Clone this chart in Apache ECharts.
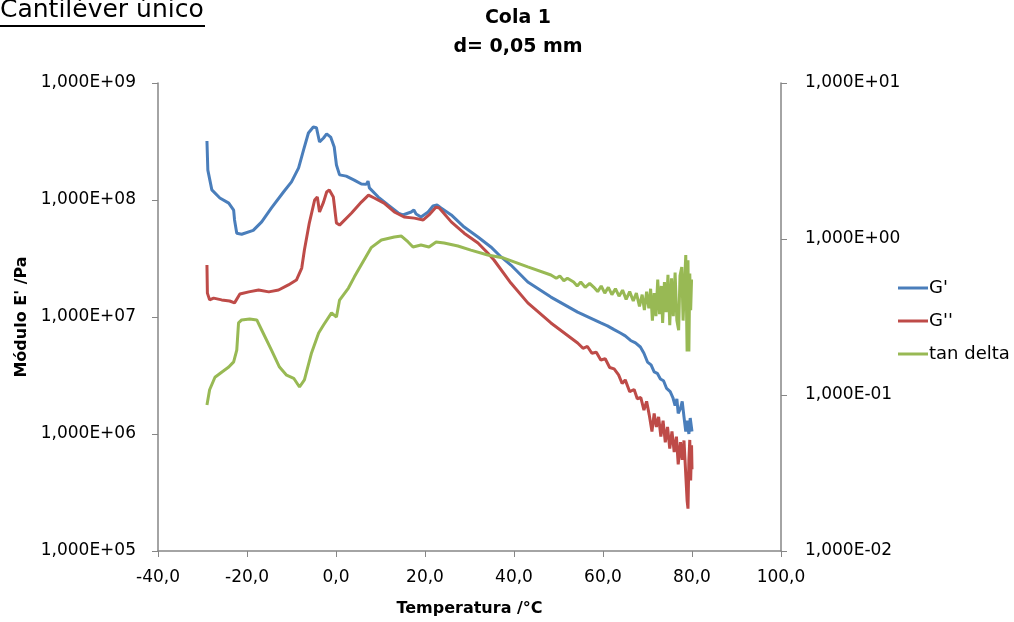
<!DOCTYPE html>
<html>
<head>
<meta charset="utf-8">
<script src="https://cdn.jsdelivr.net/npm/echarts@6/dist/echarts.min.js"></script>
<style>
html, body { margin: 0; padding: 0; background: #fff; }
#report { width: 1014px; height: 622px; }
</style>
</head>
<body>
<div id="report"></div>
<script>
// G' (Pa)
var gpTemp = [-29.0, -28.8, -27.9, -26.1, -24.1, -23.0, -22.8, -22.3, -21.2, -18.6, -16.7, -14.5, -11.8, -10.0, -8.4, -7.3, -6.2, -5.1, -4.4, -3.7,
    -2.8, -2.1, -1.2, -0.4, 0.1, 0.8, 2.3, 4.1, 5.7, 6.8, 7.2, 7.5, 9.5, 11.7, 14.0, 15.0, 16.9, 17.5, 18.0, 19.1,
    20.7, 21.8, 22.7, 23.6, 25.9, 28.8, 31.9, 34.8, 37.1, 39.3, 43.1, 48.3, 54.3, 59.5, 61.0, 62.5, 63.9, 65.0, 66.2, 67.3,
    68.4, 69.2, 70.0, 70.8, 71.5, 72.2, 72.9, 73.6, 74.3, 75.1, 75.7, 76.2, 76.6, 76.9, 77.4, 77.8, 78.2, 78.6, 78.9, 79.3,
    79.6, 80.0];
var gpVals = [3.19e8, 1.80e8, 1.22e8, 1.04e8, 9.4e7, 8.2e7, 6.75e7, 5.2e7, 5.1e7, 5.5e7, 6.5e7, 8.55e7, 1.17e8, 1.43e8, 1.88e8, 2.67e8, 3.74e8, 4.21e8, 4.15e8, 3.13e8,
    3.39e8, 3.67e8, 3.45e8, 2.84e8, 1.99e8, 1.64e8, 1.60e8, 1.48e8, 1.37e8, 1.36e8, 1.45e8, 1.27e8, 1.06e8, 9.06e7, 7.74e7, 7.45e7, 7.89e7, 8.2e7, 7.59e7, 7.16e7,
    7.89e7, 8.89e7, 9.06e7, 8.55e7, 7.45e7, 5.87e7, 4.83e7, 3.97e7, 3.26e7, 2.78e7, 1.99e7, 1.48e7, 1.10e7, 8.89e6, 8.4e6, 7.8e6, 7.30e6, 6.9e6, 6.3e6, 6.0e6,
    5.54e6, 4.9e6, 4.12e6, 3.9e6, 3.4e6, 3.3e6, 2.95e6, 2.85e6, 2.45e6, 2.3e6, 2.05e6, 1.75e6, 2.0e6, 1.5e6, 1.65e6, 1.9e6, 1.4e6, 1.05e6, 1.3e6, 1.0e6,
    1.37e6, 1.05e6];

// G'' (Pa)
var gppTemp = [-29.0, -28.9, -28.4, -27.5, -25.7, -23.9, -22.8, -21.6, -19.6, -17.4, -15.1, -12.9, -10.7, -8.9, -7.7, -7.1, -6.0, -4.8, -4.2, -3.7,
    -2.8, -2.1, -1.5, -0.6, 0.1, 0.8, 3.5, 5.7, 7.3, 8.6, 10.8, 13.1, 15.3, 17.6, 19.6, 20.9, 22.5, 23.2, 25.9, 28.8,
    31.9, 34.1, 35.5, 39.3, 43.1, 48.3, 54.3, 55.5, 56.5, 57.5, 58.5, 59.5, 60.5, 61.5, 62.5, 63.5, 64.3, 65.0, 66.0, 67.0,
    67.7, 68.5, 69.2, 69.8, 70.4, 71.0, 71.5, 72.0, 72.5, 73.0, 73.5, 74.0, 74.5, 75.0, 75.5, 76.0, 76.5, 76.9, 77.4, 77.8,
    78.2, 78.6, 78.9, 79.1, 79.3, 79.5, 79.7, 79.9, 80.0];
var gppVals = [2.78e7, 1.60e7, 1.40e7, 1.45e7, 1.40e7, 1.37e7, 1.32e7, 1.57e7, 1.64e7, 1.70e7, 1.64e7, 1.70e7, 1.88e7, 2.07e7, 2.62e7, 3.74e7, 6.35e7, 1.0e8, 1.06e8, 7.9e7,
    9.6e7, 1.17e8, 1.22e8, 1.06e8, 6.35e7, 6.1e7, 7.74e7, 9.6e7, 1.10e8, 1.04e8, 9.4e7, 7.9e7, 7.16e7, 7.0e7, 6.75e7, 7.45e7, 8.7e7, 8.55e7, 6.5e7, 5.2e7,
    4.29e7, 3.52e7, 3.07e7, 1.95e7, 1.32e7, 8.89e6, 6.0e6, 5.4e6, 5.6e6, 4.9e6, 5.0e6, 4.29e6, 4.4e6, 3.7e6, 3.6e6, 3.2e6, 2.7e6, 2.9e6, 2.3e6, 2.4e6,
    2.0e6, 2.05e6, 1.6e6, 1.9e6, 1.45e6, 1.05e6, 1.5e6, 1.15e6, 1.4e6, 9.5e5, 1.3e6, 8.5e5, 1.15e6, 7.5e5, 1.05e6, 7.0e5, 9.5e5, 5.5e5, 8.5e5, 6.0e5,
    8.8e5, 4.5e5, 2.7e5, 2.3e5, 6.0e5, 8.9e5, 4.0e5, 8.0e5, 5.0e5];

// tan delta (right axis)
var tanTemp = [-29.0, -28.4, -27.2, -25.7, -24.1, -23.0, -22.3, -21.9, -21.2, -19.4, -17.8, -16.7, -14.5, -12.7, -11.1, -9.5, -8.2, -7.1, -5.5, -3.9,
    -2.8, -1.0, 0.1, 0.8, 2.8, 4.1, 5.0, 7.9, 10.2, 13.1, 14.7, 15.1, 16.2, 17.3, 19.1, 20.9, 22.5, 24.3, 27.4, 30.3,
    34.1, 37.7, 43.1, 48.3, 49.5, 50.3, 51.2, 52.0, 53.4, 54.2, 55.0, 56.0, 57.0, 57.9, 58.8, 59.6, 60.4, 61.2, 62.0, 62.8,
    63.6, 64.4, 65.2, 66.0, 66.8, 67.5, 68.2, 68.8, 69.3, 69.8, 70.3, 70.7, 71.1, 71.5, 71.9, 72.3, 72.7, 73.1, 73.4, 73.8,
    74.2, 74.6, 75.0, 75.4, 75.8, 76.2, 76.6, 77.0, 77.3, 77.7, 78.0, 78.3, 78.6, 78.9, 79.1, 79.3, 79.5, 79.7, 79.9];
var tanVals = [0.0863, 0.108, 0.130, 0.140, 0.151, 0.163, 0.194, 0.290, 0.303, 0.307, 0.303, 0.261, 0.194, 0.151, 0.134, 0.128, 0.1125, 0.125, 0.186, 0.250,
    0.281, 0.336, 0.316, 0.406, 0.485, 0.570, 0.632, 0.88, 0.986, 1.03, 1.045, 1.06, 0.957, 0.889, 0.916, 0.889, 0.957, 0.942, 0.902, 0.849,
    0.789, 0.755, 0.662, 0.588, 0.56, 0.58, 0.54, 0.56, 0.530, 0.50, 0.53, 0.49, 0.52, 0.492, 0.46, 0.50, 0.45, 0.49, 0.44, 0.48,
    0.43, 0.47, 0.41, 0.46, 0.40, 0.45, 0.37, 0.44, 0.35, 0.46, 0.36, 0.48, 0.30, 0.45, 0.32, 0.55, 0.33, 0.50, 0.29, 0.53,
    0.34, 0.59, 0.28, 0.56, 0.32, 0.61, 0.30, 0.26, 0.58, 0.66, 0.30, 0.50, 0.79, 0.19, 0.73, 0.19, 0.60, 0.35, 0.55];

var xTicks = [-40, -20, 0, 20, 40, 60, 80, 100];

function pairs(t, v) {
    var out = [];
    for (var i = 0; i < t.length; i++) out.push([t[i], v[i]]);
    return out;
}

function sciLabel(value) {
    var e = Math.round(Math.log(value) / Math.LN10);
    var a = Math.abs(e);
    return '1,000E' + (e < 0 ? '-' : '+') + (a < 10 ? '0' : '') + a;
}

var font = 'DejaVu Sans';
var axisGrey = '#868686';

var option = {
    animation: false,
    backgroundColor: '#fff',
    title: {
        text: 'Cola 1\nd= 0,05 mm',
        left: 513,
        top: -1,
        textAlign: 'center',
        textStyle: { fontFamily: font, fontSize: 19, fontWeight: 'bold', color: '#000', lineHeight: 29 }
    },
    graphic: [
        {
            type: 'text', left: 0, top: -2,
            style: { text: 'Cantiléver único', font: '25px "DejaVu Sans"', fill: '#000' }
        },
        {
            type: 'rect', left: 0, top: 25,
            shape: { width: 205, height: 2 },
            style: { fill: '#000' }
        }
    ],
    legend: {
        orient: 'vertical',
        left: 893,
        top: 274,
        itemGap: 15,
        itemWidth: 30,
        itemHeight: 3,
        icon: 'rect',
        textStyle: { fontFamily: font, fontSize: 18, color: '#000', padding: [0, 0, 0, -4] },
        data: ["G'", "G''", 'tan delta']
    },
    grid: { left: 158, right: 233, top: 83, bottom: 71 },
    xAxis: {
        type: 'value',
        min: xTicks[0],
        max: xTicks[xTicks.length - 1],
        interval: 20,
        name: 'Temperatura /°C',
        nameLocation: 'middle',
        nameGap: 50,
        nameTextStyle: { fontFamily: font, fontSize: 16, fontWeight: 'bold', color: '#000' },
        axisLine: { lineStyle: { color: axisGrey, width: 1.5 } },
        axisTick: { length: 6, lineStyle: { color: axisGrey } },
        axisLabel: {
            fontFamily: font, fontSize: 17, color: '#000', margin: 18,
            formatter: function (v) { return v.toFixed(1).replace('.', ','); }
        },
        splitLine: { show: false }
    },
    yAxis: [
        {
            type: 'log',
            logBase: 10,
            min: 1e5,
            max: 1e9,
            position: 'left',
            name: "Módulo E' /Pa",
            nameLocation: 'middle',
            nameRotate: 90,
            nameGap: 128,
            nameTextStyle: { fontFamily: font, fontSize: 16, fontWeight: 'bold', color: '#000' },
            axisLine: { show: true, onZero: false, lineStyle: { color: axisGrey, width: 1.5 } },
            axisTick: { show: true, length: 6, lineStyle: { color: axisGrey } },
            axisLabel: { fontFamily: font, fontSize: 17, color: '#000', margin: 22, formatter: sciLabel },
            splitLine: { show: false },
            minorTick: { show: false }
        },
        {
            type: 'log',
            logBase: 10,
            min: 1e-2,
            max: 1e1,
            position: 'right',
            axisLine: { show: true, onZero: false, lineStyle: { color: axisGrey, width: 1.5 } },
            axisTick: { show: true, length: 6, lineStyle: { color: axisGrey } },
            axisLabel: { fontFamily: font, fontSize: 17, color: '#000', margin: 24, formatter: sciLabel },
            splitLine: { show: false },
            minorTick: { show: false }
        }
    ],
    series: [
        {
            name: "G'", type: 'line', yAxisIndex: 0, showSymbol: false, symbol: 'none',
            lineStyle: { width: 3, color: '#4a7ebb' }, itemStyle: { color: '#4a7ebb' },
            data: pairs(gpTemp, gpVals)
        },
        {
            name: "G''", type: 'line', yAxisIndex: 0, showSymbol: false, symbol: 'none',
            lineStyle: { width: 3, color: '#be4b48' }, itemStyle: { color: '#be4b48' },
            data: pairs(gppTemp, gppVals)
        },
        {
            name: 'tan delta', type: 'line', yAxisIndex: 1, showSymbol: false, symbol: 'none',
            lineStyle: { width: 3, color: '#98b954' }, itemStyle: { color: '#98b954' },
            data: pairs(tanTemp, tanVals)
        }
    ]
};

var myChart = echarts.init(document.getElementById('report'));
myChart.setOption(option);
</script>
</body>
</html>
